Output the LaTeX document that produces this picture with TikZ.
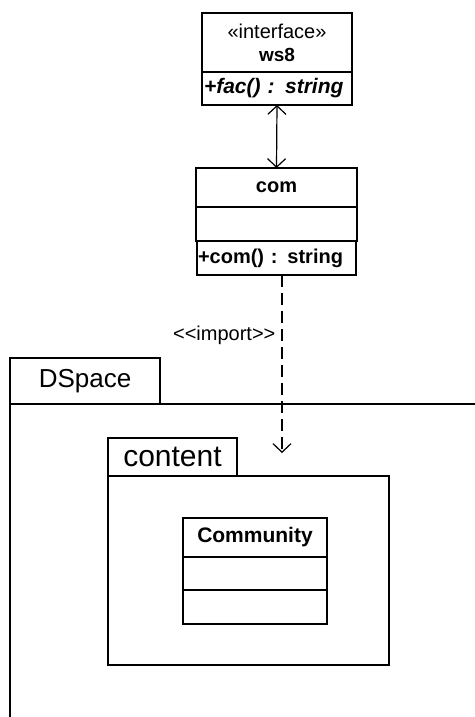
\documentclass[tikz,border=0pt]{standalone}
\usepackage{fontspec}
\setmainfont{Liberation Sans}
\usetikzlibrary{arrows.meta}

\tikzset{%
  every node/.style={
    inner sep=1pt
  },
  box/.style={draw, line width=1.2pt, inner sep=0pt, outer sep=0pt},
  ops/.style={box, anchor=north, align=left, inner xsep=2pt},
  txt/.style={font=\fontsize{20}{23}\selectfont},
  barb/.style={line width=1.2pt, -{Straight Barb[length=8.5pt,width=18pt]}}
}

\begin{document}
\begin{tikzpicture}[x=1pt,y=-1pt]
      \useasboundingbox (0,0) rectangle (474,717);
      % interface ws8
      \node[box, txt, align=center, minimum width=150pt, minimum height=59pt] (ws8) at (277,42.5)
        {«interface»\\[0pt] {\fontsize{19}{22}\selectfont\bfseries ws8}};
      \node[ops, font=\fontsize{21}{24}\selectfont, text width=146pt, minimum height=33pt] (ws8ops) at (ws8.south)
        {\bfseries\itshape +fac() : string};
      % class com
      \node[box, txt, minimum width=161pt, minimum height=39pt] (com) at (276.5,187.5) {\bfseries com};
      \node[box, anchor=north, minimum width=161pt, minimum height=34pt] (comattr) at (com.south) {};
      \node[ops, txt, text width=157pt, minimum height=34pt, inner xsep=1pt] (comops) at (comattr.south)
        {\bfseries +com() : string};
      \draw[barb, {Straight Barb[length=8.5pt,width=18pt]}-{Straight Barb[length=8.5pt,width=18pt]}]
        (ws8ops.south) -- (com.north);
      % DSpace package
      \node[box, anchor=north west, minimum width=150pt, minimum height=46pt,
        font=\fontsize{26}{30}\selectfont] (dspace) at (10,358) {DSpace};
      \draw[line width=1.2pt] (dspace.south west |- 0,730) -- (dspace.south west) -- (480,404);
      % content package
      \node[box, anchor=north west, minimum width=129pt, minimum height=38pt,
        font=\fontsize{30}{34}\selectfont] (content) at (108,438) {content};
      \node[box, anchor=north west, minimum width=281pt, minimum height=189pt] (contentbody) at (content.south west) {};
      % class Community
      \node[box, font=\fontsize{21}{24}\selectfont, anchor=north west, minimum width=144pt, minimum height=39pt] (comm) at (183,518) {\bfseries Community};
      \node[box, anchor=north, minimum width=144pt, minimum height=33pt] (commattr) at (comm.south) {};
      \node[box, anchor=north, minimum width=144pt, minimum height=34pt] (commops) at (commattr.south) {};
      % import
      \coordinate (imp) at (282,453);
      \draw[barb, dash pattern=on 12pt off 6pt] (comops.south -| imp) -- node[txt, left=5pt, pos=0.34] (imptxt)
        {<\kern0pt<import>\kern0pt>} (imp);
    \end{tikzpicture}
\end{document}
